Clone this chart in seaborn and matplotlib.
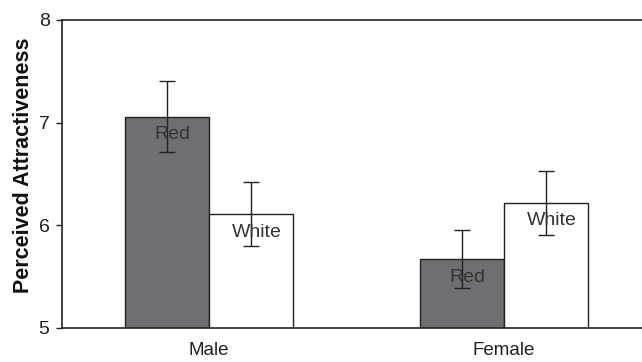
import matplotlib
matplotlib.use("Agg")
import matplotlib.pyplot as plt
import seaborn as sns
import pandas as pd

# Mean ratings and standard errors by participant sex and shirt colour
sexes = ["Male", "Female"]
colours = ["Red", "White"]
means = {"Male": [7.06, 6.11], "Female": [5.67, 6.22]}
errors = {"Male": [0.35, 0.31], "Female": [0.28, 0.31]}
y_ticks = [5, 6, 7, 8]

rows = []
for s in sexes:
    for c, m, e in zip(colours, means[s], errors[s]):
        rows.append({"sex": s, "colour": c, "mean": m, "se": e})
df = pd.DataFrame(rows)

sns.set_theme(style="white")
plt.rcParams["font.family"] = ["Liberation Sans", "DejaVu Sans"]

fig = plt.figure(figsize=(6.42, 3.62), dpi=100)
ax = fig.add_axes([62 / 642, 1 - 328 / 362, 589 / 642, 308 / 362])

edge = "#222222"
sns.barplot(data=df, x="sex", y="mean", hue="colour", order=sexes,
            hue_order=colours, palette={"Red": "#6e6f72", "White": "#ffffff"},
            width=0.572, errorbar=None, edgecolor=edge, linewidth=1.0,
            legend=False, ax=ax)

# seaborn draws bars hue by hue: Red (Male, Female), then White (Male, Female)
order = [(c, s) for c in colours for s in sexes]
lookup = df.set_index(["colour", "sex"])

# Error bars and in-bar labels placed on each bar's centre
for patch, (c, s) in zip(ax.patches, order):
    m = lookup.loc[(c, s), "mean"]
    e = lookup.loc[(c, s), "se"]
    cx = patch.get_x() + patch.get_width() / 2
    ax.errorbar(cx, m, yerr=e, fmt="none", ecolor=edge,
                elinewidth=1.0, capsize=6, capthick=1.0, zorder=5)
    ax.annotate(c, (cx, m), xytext=(4, -7),
                textcoords="offset points", ha="center", va="top",
                fontsize=14, color="#333333", zorder=6)

ax.set_ylim(5, 8)
ax.set_xlim(-0.5, 1.5)
ax.set_yticks(y_ticks)
ax.set_yticklabels([str(t) for t in y_ticks], fontsize=14, color="#222222")
ax.set_xticks([-0.5, 0.5, 1.5])
ax.set_xticklabels([])
ax.set_xticks([0, 1], minor=True)
ax.set_xticklabels(sexes, minor=True, fontsize=13.5, color="#222222")
ax.tick_params(axis="x", which="minor", length=0, pad=10)
ax.tick_params(axis="x", which="major", direction="out", length=4,
               width=1.0, color=edge)
ax.tick_params(axis="y", direction="out", length=4, width=1.0, color=edge,
               left=True, pad=5)
ax.set_xlabel("")
ax.set_ylabel("Perceived Attractiveness", fontsize=15.5, fontweight="bold",
              color="#111111")
ax.yaxis.set_label_coords(-0.048, 0.53)

for side in ["left", "bottom", "top", "right"]:
    ax.spines[side].set_visible(True)
    ax.spines[side].set_color(edge)
    ax.spines[side].set_linewidth(1.2)

fig.savefig("out.png", dpi=100)
